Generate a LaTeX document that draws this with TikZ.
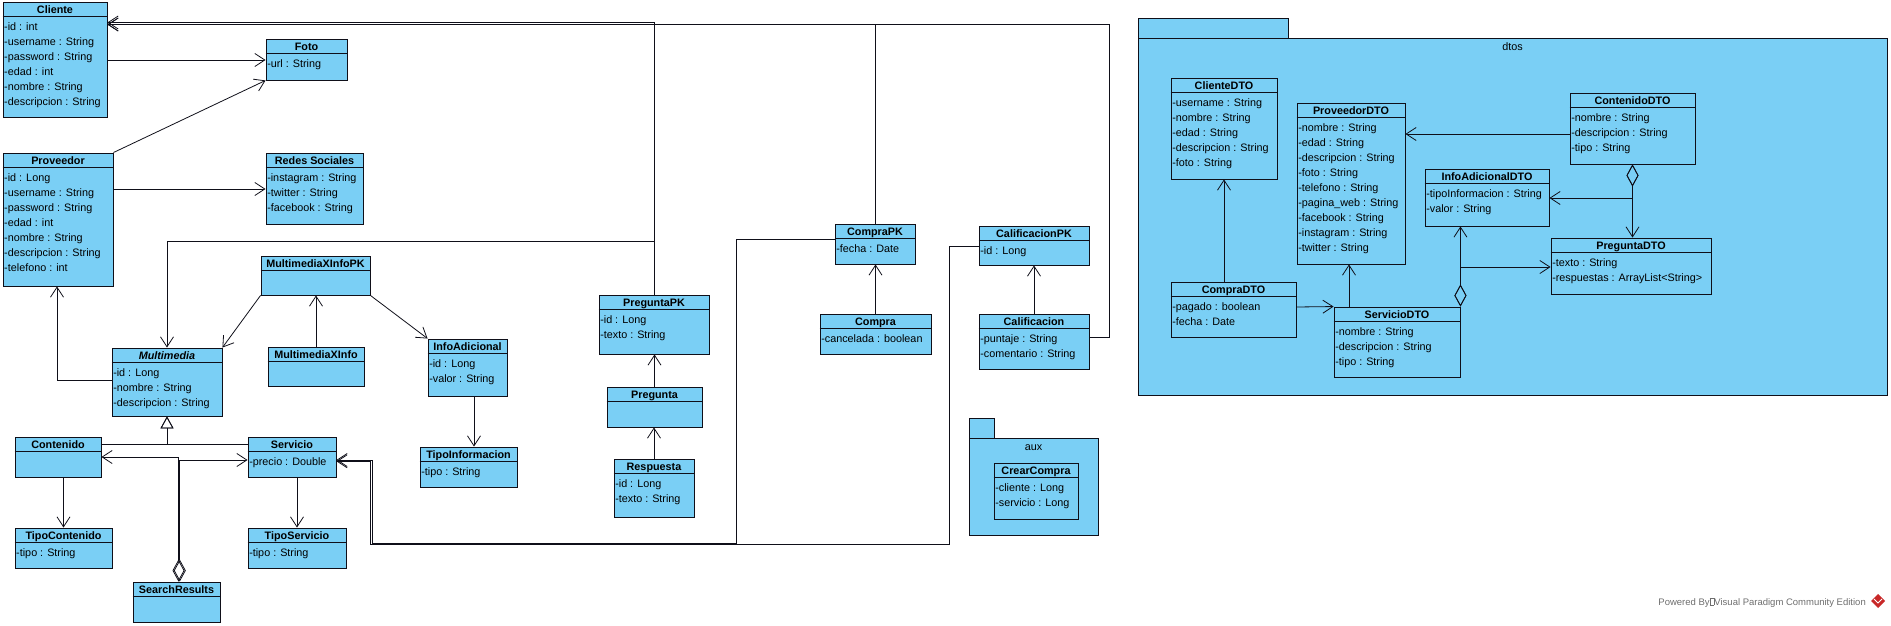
\documentclass[tikz,border=0pt]{standalone}
\usepackage{fontspec}
\setmainfont{Liberation Sans}
\usetikzlibrary{arrows.meta,fit,calc}
\definecolor{umlblue}{RGB}{122,207,245}
\definecolor{umlline}{RGB}{15,15,25}
\definecolor{footgray}{RGB}{110,110,110}
\definecolor{vpred}{RGB}{200,40,40}

\newcommand\umlclass[5]{%
  \node[umlbox, fit={#2 #3}] (#1) {};
  \draw[umlline, line width=0.8pt] ($(#1.north west)+(0,15)$) -- ($(#1.north east)+(0,15)$);
  \node[umltitle] at ($(#1.north)+(0,11.5)$) {#4};
  \foreach \a [count=\i] in {#5}
    \node[umlattr] at ($(#1.north west)+(1.5,{13.5+15*\i})$) {\a};
}

\begin{document}
\begin{tikzpicture}[x=1pt, y=-1pt,
  umlbox/.style={draw=umlline, fill=umlblue, line width=0.9pt, inner sep=0pt},
  umltitle/.style={font=\fontsize{10.8}{13}\selectfont\bfseries, anchor=base, inner sep=0pt},
  umlattr/.style={font=\fontsize{10.8}{13}\selectfont, anchor=base west, inner sep=0pt},
  pkgbox/.style={draw=umlline, fill=umlblue, line width=0.9pt, inner sep=0pt},
  pkglabel/.style={font=\fontsize{10.8}{13}\selectfont, anchor=base, inner sep=0pt},
  assoc/.style={draw=umlline, line width=0.8pt, -{Straight Barb[length=10pt,width=13pt]}},
  gen/.style={draw=umlline, line width=0.8pt, -{Triangle[open,length=12pt,width=13pt]}},
  aggr/.style={draw=umlline, line width=0.8pt, {Diamond[open,length=22pt,width=12pt]}-{Straight Barb[length=10pt,width=13pt]}}]

\useasboundingbox (0,0) rectangle (1891,626);

% packages
\node[pkgbox, fit={(1138,18) (1288,38)}] (dtostab) {};
\node[pkgbox, fit={(1138,38) (1887,395)}] (dtos) {};
\node[pkglabel] at ($(dtos.north)+(0,13)$) {dtos};
\node[pkgbox, fit={(969,418) (994,438)}] (auxtab) {};
\node[pkgbox, fit={(969,438) (1098,535)}] (auxpkg) {};
\node[pkglabel] at ($(auxpkg.north)+(0,13)$) {aux};

% classes
\umlclass{cliente}{(3,2)}{(107,117)}{Cliente}{-id : int, -username : String, -password : String, -edad : int, -nombre : String, -descripcion : String}
\umlclass{foto}{(266,39)}{(347,80)}{Foto}{-url : String}
\umlclass{proveedor}{(3,153)}{(113,286)}{Proveedor}{-id : Long, -username : String, -password : String, -edad : int, -nombre : String, -descripcion : String, -telefono : int}
\umlclass{redes}{(266,153)}{(363,224)}{Redes Sociales}{-instagram : String, -twitter : String, -facebook : String}
\umlclass{mxipk}{(261,256)}{(370,295)}{MultimediaXInfoPK}{}
\umlclass{multimedia}{(112,348)}{(222,416)}{{\itshape Multimedia}}{-id : Long, -nombre : String, -descripcion : String}
\umlclass{mxi}{(268,347)}{(364,386)}{MultimediaXInfo}{}
\umlclass{infoadicional}{(428,339)}{(507,396)}{InfoAdicional}{-id : Long, -valor : String}
\umlclass{tipoinformacion}{(420,447)}{(517,487)}{TipoInformacion}{-tipo : String}
\umlclass{contenido}{(15,437)}{(101,477)}{Contenido}{}
\umlclass{servicio}{(248,437)}{(336,477)}{Servicio}{-precio : Double}
\umlclass{tipocontenido}{(15,528)}{(112,568)}{TipoContenido}{-tipo : String}
\umlclass{tiposervicio}{(248,528)}{(346,568)}{TipoServicio}{-tipo : String}
\umlclass{searchresults}{(133,582)}{(220,622)}{SearchResults}{}
\umlclass{preguntapk}{(599,295)}{(709,354)}{PreguntaPK}{-id : Long, -texto : String}
\umlclass{pregunta}{(607,387)}{(702,427)}{Pregunta}{}
\umlclass{respuesta}{(614,459)}{(694,517)}{Respuesta}{-id : Long, -texto : String}
\umlclass{comprapk}{(835,224)}{(915,264)}{CompraPK}{-fecha : Date}
\umlclass{compra}{(820,314)}{(931,354)}{Compra}{-cancelada : boolean}
\umlclass{calificacionpk}{(979,226)}{(1089,265)}{CalificacionPK}{-id : Long}
\umlclass{calificacion}{(979,314)}{(1089,369)}{Calificacion}{-puntaje : String, -comentario : String}
\umlclass{crearcompra}{(994,463)}{(1078,519)}{CrearCompra}{-cliente : Long, -servicio : Long}

\umlclass{clientedto}{(1171,78)}{(1277,179)}{ClienteDTO}{-username : String, -nombre : String, -edad : String, -descripcion : String, -foto : String}
\umlclass{proveedordto}{(1297,103)}{(1405,264)}{ProveedorDTO}{-nombre : String, -edad : String, -descripcion : String, -foto : String, -telefono : String, -pagina\_web : String, -facebook : String, -instagram : String, -twitter : String}
\umlclass{contenidodto}{(1570,93)}{(1695,164)}{ContenidoDTO}{-nombre : String, -descripcion : String, -tipo : String}
\umlclass{infoadicionaldto}{(1425,169)}{(1549,226)}{InfoAdicionalDTO}{-tipoInformacion : String, -valor : String}
\umlclass{preguntadto}{(1551,238)}{(1711,294)}{PreguntaDTO}{-texto : String, -respuestas : ArrayList<String>}
\umlclass{serviciodto}{(1334,307)}{(1460,377)}{ServicioDTO}{-nombre : String, -descripcion : String, -tipo : String}
\umlclass{compradto}{(1171,282)}{(1296,337)}{CompraDTO}{-pagado : boolean, -fecha : Date}

% connectors
\draw[assoc] (cliente.east |- 0,60) -- (foto.west |- 0,60);
\draw[assoc] (proveedor.north east) -- (foto.south west);
\draw[assoc] (proveedor.east |- 0,189) -- (redes.west |- 0,189);
\draw[assoc] (multimedia.west |- 0,380) -| (57,0 |- proveedor.south);
\draw[assoc] (preguntapk.north) |- (multimedia.north |- 0,241) -- (multimedia.north);
\draw[assoc] (preguntapk.north) |- (cliente.east |- 0,22.5);
\draw[assoc] (comprapk.north) |- (cliente.east |- 0,24.5);
\draw[assoc] (calificacion.east |- 0,337) -| (1109,24.5) -- (cliente.east |- 0,24.5);
\draw[assoc] (comprapk.west |- 0,239) -| (736,543) -| (372,460) -- (servicio.east |- 0,460);
\draw[assoc] (calificacionpk.west |- 0,246) -| (949,544.3) -| (370.7,461.3) -- (servicio.east |- 0,461.3);
\draw[assoc] (compra.north) -- (compra.north |- comprapk.south);
\draw[assoc] (calificacion.north) -- (calificacionpk.south);
\draw[assoc] (pregunta.north) -- (pregunta.north |- preguntapk.south);
\draw[assoc] (respuesta.north) -- (respuesta.north |- pregunta.south);
\draw[assoc] (mxipk.south west) -- (multimedia.north east);
\draw[assoc] (mxi.north) -- (mxi.north |- mxipk.south);
\draw[assoc] (mxipk.south east) -- (infoadicional.north west);
\draw[assoc] (474,0 |- infoadicional.south) -- (474,0 |- tipoinformacion.north);
\draw[gen] (contenido.east |- 0,444) -| (multimedia.south);
\draw[gen] (servicio.west |- 0,444) -| (multimedia.south);
\draw[aggr] (178.5,0 |- searchresults.north) |- (contenido.east |- 0,457);
\draw[aggr] (179.8,0 |- searchresults.north) |- (servicio.west |- 0,460);
\draw[assoc] (contenido.south -| tipocontenido.north) -- (tipocontenido.north);
\draw[assoc] (servicio.south -| tiposervicio.north) -- (tiposervicio.north);

\draw[assoc] (contenidodto.west |- 0,134) -- (proveedordto.east |- 0,134);
\draw[aggr] (contenidodto.south) |- (infoadicionaldto.east |- 0,198);
\draw[aggr] (contenidodto.south) -- (contenidodto.south |- preguntadto.north);
\draw[aggr] (serviciodto.north east) -- (serviciodto.north east |- infoadicionaldto.south);
\draw[aggr] (serviciodto.north east) |- (preguntadto.west |- 0,267);
\draw[assoc] (1349,0 |- serviciodto.north) -- (1349,0 |- proveedordto.south);
\draw[assoc] (compradto.north -| clientedto.south) -- (clientedto.south);
\draw[assoc] (compradto.east |- 0,307) -- (serviciodto.north west);

% footer
\node[anchor=base east, inner sep=0pt, text=footgray, font=\fontsize{9.5}{11}\selectfont] (powered) at (1866,605)
  {Powered By{\fboxsep=0pt\fboxrule=0.4pt\fbox{\rule{0pt}{6.5pt}\hspace{4pt}}}Visual Paradigm Community Edition};
\fill[vpred] (1878,594) -- (1885,601) -- (1878,608) -- (1871,601) -- cycle;
\draw[white, line width=0.8pt] (1874,599) -- (1878,603) -- (1882,599);
\end{tikzpicture}
\end{document}
